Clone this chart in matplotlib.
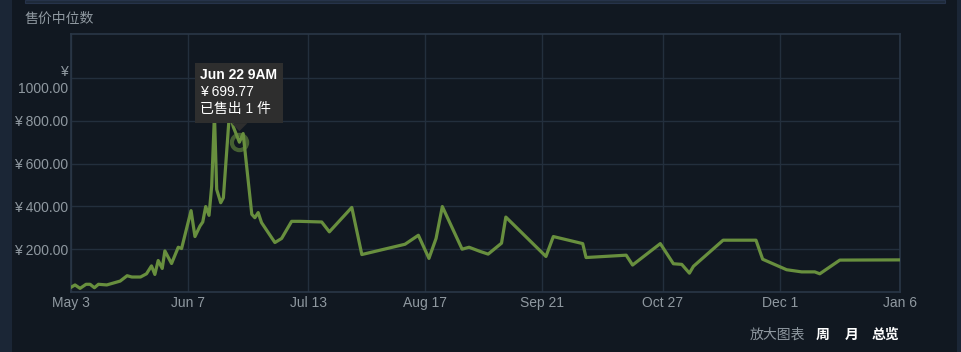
import matplotlib
matplotlib.use("Agg")
import matplotlib.pyplot as plt
import matplotlib.dates as mdates
from matplotlib.patches import Rectangle, Polygon
import pandas as pd

plt.rcParams["font.family"] = ["Liberation Sans", "Noto Sans CJK SC"]

# median sale price history
sale_times = [
    "2023-05-03 00:00", "2023-05-04 05:00", "2023-05-05 17:00", "2023-05-07 12:00",
    "2023-05-08 17:00", "2023-05-10 00:00", "2023-05-11 05:00", "2023-05-13 17:00",
    "2023-05-15 17:00", "2023-05-17 17:00", "2023-05-19 19:00", "2023-05-21 05:00",
    "2023-05-23 19:00", "2023-05-25 14:00", "2023-05-27 02:00", "2023-05-28 02:00",
    "2023-05-29 02:00", "2023-05-30 07:00", "2023-05-31 02:00", "2023-06-02 02:00",
    "2023-06-04 02:00", "2023-06-05 02:00", "2023-06-07 22:00", "2023-06-09 02:00",
    "2023-06-10 14:00", "2023-06-11 10:00", "2023-06-12 07:00", "2023-06-13 07:00",
    "2023-06-14 02:00", "2023-06-14 22:00", "2023-06-15 14:00", "2023-06-16 19:00",
    "2023-06-17 14:00", "2023-06-19 10:00", "2023-06-20 14:00", "2023-06-22 09:00",
    "2023-06-23 12:00", "2023-06-26 02:00", "2023-06-27 00:00", "2023-06-28 00:00",
    "2023-06-29 00:00", "2023-07-03 00:00", "2023-07-05 00:00", "2023-07-08 00:00",
    "2023-07-10 12:00", "2023-07-17 00:00", "2023-07-19 07:00", "2023-07-26 00:00",
    "2023-07-29 00:00", "2023-08-10 22:00", "2023-08-14 22:00", "2023-08-18 02:00",
    "2023-08-20 05:00", "2023-08-22 02:00", "2023-08-28 00:00", "2023-08-30 02:00",
    "2023-09-02 07:00", "2023-09-04 19:00", "2023-09-08 19:00", "2023-09-10 02:00",
    "2023-09-22 02:00", "2023-09-24 07:00", "2023-10-03 02:00", "2023-10-04 02:00",
    "2023-10-16 02:00", "2023-10-18 00:00", "2023-10-26 07:00", "2023-10-30 05:00",
    "2023-11-01 17:00", "2023-11-04 00:00", "2023-11-05 05:00", "2023-11-14 02:00",
    "2023-11-23 22:00", "2023-11-25 22:00", "2023-12-03 02:00", "2023-12-07 14:00",
    "2023-12-11 12:00", "2023-12-13 00:00", "2023-12-19 00:00", "2024-01-06 00:00",
]
median_prices = [
    22, 33, 17, 36,
    36, 20, 36, 33,
    42, 51, 76, 70,
    70, 85, 122, 82,
    147, 110, 192, 133,
    209, 203, 380, 259,
    308, 327, 399, 358,
    494, 830, 479, 417,
    440, 840, 770, 699.77,
    740, 363, 347, 371,
    324, 231, 250, 330,
    330, 327, 281, 395,
    175, 223, 265, 157,
    250, 399, 200, 209,
    190, 177, 228, 350,
    166, 259, 226, 161,
    172, 126, 226, 132,
    129, 88, 120, 242,
    242, 153, 104, 94,
    94, 85, 149, 150,
]

x_tick_dates = ["2023-05-03", "2023-06-07", "2023-07-13", "2023-08-17",
                "2023-09-21", "2023-10-27", "2023-12-01", "2024-01-06"]
x_tick_labels = ["May 3", "Jun 7", "Jul 13", "Aug 17", "Sep 21", "Oct 27", "Dec 1", "Jan 6"]
y_ticks = [200, 400, 600, 800, 1000]
y_tick_labels = ["¥ 200.00", "¥ 400.00", "¥ 600.00", "¥ 800.00", "¥\n1000.00"]

hover_time = "2023-06-22 09:00"
hover_price = 699.77
hover_label = "Jun 22 9AM"
hover_sold = 1

BG = "#111821"
PANEL = "#1b2636"
GRID = "#232f3d"
TXT = "#8f98a0"
GREEN = "#688f3e"

W, H = 962, 352
fig = plt.figure(figsize=(W / 100, H / 100), dpi=100, facecolor=BG)


def fx(x):
    return x / W


def fy(y):
    return 1 - y / H


# page chrome around the chart
fig.patches.append(Rectangle((0, 0), fx(12), 1, transform=fig.transFigure,
                             facecolor=PANEL, edgecolor="none"))
fig.patches.append(Rectangle((fx(957), 0), fx(5), 1, transform=fig.transFigure,
                             facecolor=PANEL, edgecolor="none"))
fig.patches.append(Rectangle((fx(25), fy(3)), fx(920), fx(3) * W / H, transform=fig.transFigure,
                             facecolor="#1e2a3a", edgecolor="#26334a", linewidth=0.8))

ax = fig.add_axes([fx(71), fy(292), fx(900 - 71), (292 - 34) / H])
ax.set_facecolor(BG)

times = pd.to_datetime(sale_times)
ax.plot(times, median_prices, color=GREEN, linewidth=2.3, solid_joinstyle="round", zorder=3)

ax.set_xlim(pd.Timestamp(x_tick_dates[0]), pd.Timestamp(x_tick_dates[-1]))
ax.set_ylim(0, 1205)
ax.set_xticks(pd.to_datetime(x_tick_dates))
ax.set_xticklabels(x_tick_labels)
ax.set_yticks(y_ticks)
ax.set_yticklabels(y_tick_labels, multialignment="right")
ax.tick_params(axis="both", length=0, colors=TXT, labelsize=10)
ax.tick_params(axis="x", pad=3)
ax.tick_params(axis="y", pad=2)
ax.grid(True, color=GRID, linewidth=1)
for s in ax.spines.values():
    s.set_color("#2a3747")
    s.set_linewidth(1.2)

# hovered point marker
hx = mdates.date2num(pd.Timestamp(hover_time))
ax.plot([hx], [hover_price], marker="o", markersize=11, markerfacecolor="none",
        markeredgecolor=GREEN, markeredgewidth=3, alpha=0.6, zorder=4)

# tooltip, placed in pixels relative to the hovered point
mx, my = ax.transData.transform((hx, hover_price))
fig.patches.append(Rectangle(((mx - 44) / W, (my + 19) / H), 88 / W, 60 / H,
                             transform=fig.transFigure, facecolor="#2e2e2e",
                             edgecolor="none", zorder=10))
fig.patches.append(Polygon([((mx - 8) / W, (my + 19) / H), ((mx + 8) / W, (my + 19) / H),
                            (mx / W, (my + 11) / H)], closed=True,
                           transform=fig.transFigure, facecolor="#2e2e2e",
                           edgecolor="none", zorder=10))
tip_lines = [(hover_label, "bold", 67), (f"¥ {hover_price:.2f}", "normal", 50),
             (f"已售出 {hover_sold} 件", "normal", 33)]
for txt, weight, dy in tip_lines:
    fig.text((mx - 39) / W, (my + dy) / H, txt, color="white", fontsize=10,
             fontweight=weight, va="center", ha="left", zorder=11)

# title and footer links
fig.text(fx(25), fy(19), "售价中位数", color=TXT, fontsize=10, va="center", ha="left")
fig.text(fx(750), fy(335), "放大图表", color=TXT, fontsize=10, va="center", ha="left")
fig.text(fx(816), fy(335), "周", color="white", fontsize=10, fontweight="bold", va="center", ha="left")
fig.text(fx(845), fy(335), "月", color="white", fontsize=10, fontweight="bold", va="center", ha="left")
fig.text(fx(872), fy(335), "总览", color="white", fontsize=10, fontweight="bold", va="center", ha="left")

fig.savefig("out.png", dpi=100, facecolor=BG)
